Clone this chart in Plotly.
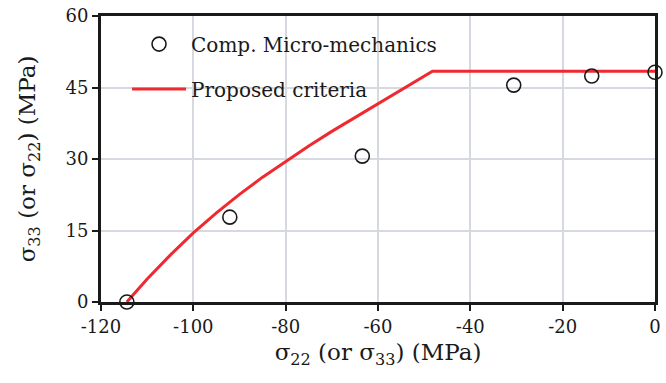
import plotly.graph_objects as go

# Computational micro-mechanics data points
sim_x = [-114.4, -92.1, -63.4, -30.6, -13.7, 0.0]
sim_y = [0.0, 17.8, 30.6, 45.5, 47.4, 48.2]

# Proposed criteria curve
crit_x = [-114.4, -110, -105, -100, -95, -90, -85, -80, -75, -70, -65, -60, -55, -50, -48.2, 0.0]
crit_y = [0.0, 4.84, 9.84, 14.49, 18.69, 22.59, 26.19, 29.54, 32.74, 35.79, 38.69, 41.49,
          44.39, 47.29, 48.4, 48.4]

x_ticks = [-120, -100, -80, -60, -40, -20, 0]
y_ticks = [0, 15, 30, 45, 60]

FONT = "DejaVu Serif"

fig = go.Figure()
fig.add_trace(go.Scatter(
    x=crit_x, y=crit_y, mode="lines", name="Proposed criteria",
    legendgroup="b", legendrank=2,
    line=dict(color="#ee2a30", width=3),
))
fig.add_trace(go.Scatter(
    x=sim_x, y=sim_y, mode="markers", name="Comp. Micro-mechanics",
    legendgroup="a", legendrank=1,
    marker=dict(symbol="circle-open", size=14, color="#1a1a1a", line=dict(width=1.6)),
    cliponaxis=False,
))

axis_common = dict(
    showline=True, linecolor="#1a1a1a", linewidth=3, mirror=True,
    showgrid=True, gridcolor="#d6d9e0", gridwidth=2,
    ticks="outside", ticklen=6, tickwidth=2, tickcolor="#1a1a1a",
    zeroline=False,
    tickfont=dict(family=FONT, size=18, color="#1a1a1a"),
)

fig.update_layout(
    width=666, height=383,
    margin=dict(l=101, r=5, t=16, b=81),
    paper_bgcolor="white", plot_bgcolor="white",
    font=dict(family=FONT, color="#1a1a1a"),
    showlegend=True,
    legend=dict(
        x=0.047, y=0.97, xanchor="left", yanchor="top",
        font=dict(family=FONT, size=20, color="#1a1a1a"),
        bgcolor="rgba(0,0,0,0)", tracegroupgap=16,
        traceorder="grouped", itemwidth=54,
    ),
    xaxis=dict(
        range=[-120, 0], tickvals=x_ticks, ticktext=[str(v) for v in x_ticks],
        title=dict(text="σ<sub>22</sub> (or σ<sub>33</sub>) (MPa)",
                   font=dict(family=FONT, size=23), standoff=9),
        **axis_common,
    ),
    yaxis=dict(
        range=[0, 60], tickvals=y_ticks, ticktext=[str(v) for v in y_ticks],
        title=dict(text="σ<sub>33</sub> (or σ<sub>22</sub>) (MPa)",
                   font=dict(family=FONT, size=23), standoff=24),
        **axis_common,
    ),
)

fig.write_html("out.html")
